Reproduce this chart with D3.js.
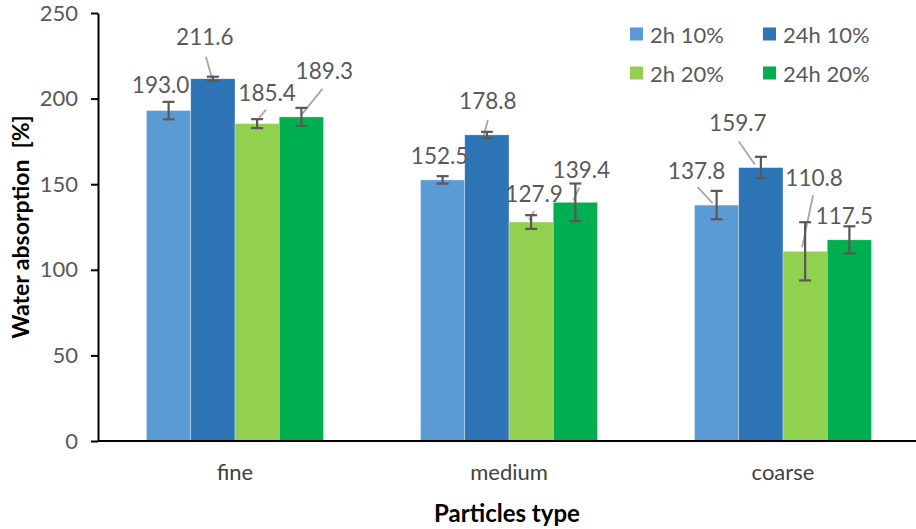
<!DOCTYPE html>
<html>
<head>
<meta charset="utf-8">
<script src="https://cdn.jsdelivr.net/npm/d3@7"></script>
<style>
  html, body { margin: 0; padding: 0; background: #fff; }
  svg { display: block; }
  text { font-family: Lato, "Liberation Sans", sans-serif; }
</style>
</head>
<body>
<svg id="chart" width="916" height="529"></svg>
<script>
// ---- data ----
const categories = ["fine", "medium", "coarse"];
const seriesNames = ["2h 10%", "24h 10%", "2h 20%", "24h 20%"];
const seriesColors = ["#5B9BD5", "#2E75B6", "#92D050", "#00B050"];
const values2h10 = [193.0, 152.5, 137.8];
const values24h10 = [211.6, 178.8, 159.7];
const values2h20 = [185.4, 127.9, 110.8];
const values24h20 = [189.3, 139.4, 117.5];
const errors2h10 = [5.1, 2.2, 8.3];
const errors24h10 = [1.2, 1.8, 6.3];
const errors2h20 = [2.6, 4.0, 17.0];
const errors24h20 = [5.3, 11.0, 7.9];
const yTicks = [0, 50, 100, 150, 200, 250];
const yTitle = "Water absorption  [%]";
const xTitle = "Particles type";

// label placement offsets (pixels, relative to bar top centre) [series][category]
const labelOffsets = [
  [[-8, -26], [-3, -24], [-20, -35]],
  [[-8, -42], [1, -34], [-23, -45]],
  [[10, -31], [3, -29], [9, -74]],
  [[23, -46], [6, -33], [-5, -24]]
];
// leader lines [x1,y1,x2,y2] relative to bar top centre, null = none
const leaderOffsets = [
  [null, null, [-19, -18, -4, -2]],
  [[-7, -22, -1, -1], [1, -15, -3, 0], [-22, -26, -6, -3]],
  [[9, -14, 2, -6], [3, -11, -2, -2], [8, -56, -3, -4]],
  [[21, -28, 0, -2], [4, -15, -2, -2], null]
];

const seriesValues = [values2h10, values24h10, values2h20, values24h20];
const seriesErrors = [errors2h10, errors24h10, errors2h20, errors24h20];

// ---- layout ----
const svg = d3.select("#chart");
const mLeft = 98, mRight = 920, mTop = 13, mBottom = 441;

const x0 = d3.scaleBand().domain(categories).range([mLeft, mRight])
  .paddingInner(0.354).paddingOuter(0.177);
const x1 = d3.scaleBand().domain(d3.range(seriesNames.length)).range([0, x0.bandwidth()]);
const y = d3.scaleLinear().domain([0, 250]).range([mBottom, mTop]);

const grey = "#595959";

// bars
const rows = [];
seriesNames.forEach((s, si) => categories.forEach((c, ci) => {
  rows.push({ si, ci, c, v: seriesValues[si][ci], e: seriesErrors[si][ci] });
}));
const cx = d => x0(d.c) + x1(d.si) + x1.bandwidth() / 2;

svg.append("g").selectAll("rect").data(rows).join("rect")
  .attr("x", d => x0(d.c) + x1(d.si))
  .attr("y", d => y(d.v))
  .attr("width", x1.bandwidth())
  .attr("height", d => y(0) - y(d.v))
  .attr("fill", d => seriesColors[d.si])
  .attr("stroke", "#ffffff").attr("stroke-opacity", 0.5).attr("stroke-width", 0.6);

// leader lines
svg.append("g").selectAll("line")
  .data(rows.filter(d => leaderOffsets[d.si][d.ci]))
  .join("line")
  .attr("x1", d => cx(d) + leaderOffsets[d.si][d.ci][0])
  .attr("y1", d => y(d.v) + leaderOffsets[d.si][d.ci][1])
  .attr("x2", d => cx(d) + leaderOffsets[d.si][d.ci][2])
  .attr("y2", d => y(d.v) + leaderOffsets[d.si][d.ci][3])
  .attr("stroke", "#A6A6A6").attr("stroke-width", 1.8);

// error bars
const eg = svg.append("g").attr("stroke", grey).attr("stroke-width", 2.2);
const capW = 6;
rows.forEach(d => {
  const xc = cx(d), yt = y(d.v + d.e), yb = y(d.v - d.e);
  eg.append("line").attr("x1", xc).attr("x2", xc).attr("y1", yt).attr("y2", yb);
  eg.append("line").attr("x1", xc - capW).attr("x2", xc + capW).attr("y1", yt).attr("y2", yt);
  eg.append("line").attr("x1", xc - capW).attr("x2", xc + capW).attr("y1", yb).attr("y2", yb);
});

// data labels
svg.append("g").selectAll("text").data(rows).join("text")
  .attr("x", d => cx(d) + labelOffsets[d.si][d.ci][0])
  .attr("y", d => y(d.v) + labelOffsets[d.si][d.ci][1])
  .attr("text-anchor", "middle").attr("dominant-baseline", "central")
  .attr("font-size", 22.5).attr("fill", grey)
  .text(d => d.v.toFixed(1));

// y axis
const yAxis = svg.append("g").attr("transform", `translate(${mLeft},0)`)
  .call(d3.axisLeft(y).tickValues(yTicks).tickSize(7).tickSizeOuter(0).tickPadding(13));
yAxis.select(".domain").attr("stroke", "#000").attr("stroke-width", 2);
yAxis.selectAll(".tick line").attr("stroke", "#000").attr("stroke-width", 2);
yAxis.selectAll(".tick text").attr("font-size", 22).attr("fill", grey)
  .attr("font-family", "Lato, 'Liberation Sans', sans-serif");

// x axis
const xAxis = svg.append("g").attr("transform", `translate(0,${mBottom})`)
  .call(d3.axisBottom(x0).tickSize(0).tickSizeOuter(0).tickPadding(23));
xAxis.select(".domain").attr("d", `M${mLeft},0H916`).attr("stroke", "#000").attr("stroke-width", 2.2);
xAxis.selectAll(".tick text").attr("font-size", 22).attr("fill", "#404040")
  .attr("font-family", "Lato, 'Liberation Sans', sans-serif");

// axis titles
svg.append("text")
  .attr("transform", `translate(29,${(mTop + mBottom) / 2}) rotate(-90)`)
  .attr("text-anchor", "middle")
  .style("white-space", "pre")
  .attr("font-size", 23).attr("font-weight", "bold").attr("fill", "#000")
  .text(yTitle);
svg.append("text")
  .attr("x", (mLeft + 916) / 2).attr("y", 522)
  .attr("text-anchor", "middle")
  .attr("font-size", 24).attr("font-weight", "bold").attr("fill", "#000")
  .text(xTitle);

// legend
const legendPos = [[630, 34], [763, 34], [630, 73], [763, 73]];
const lg = svg.append("g");
seriesNames.forEach((s, i) => {
  const [lx, ly] = legendPos[i];
  lg.append("rect").attr("x", lx).attr("y", ly - 6.5).attr("width", 13).attr("height", 13)
    .attr("fill", seriesColors[i]);
  lg.append("text").attr("x", lx + 20).attr("y", ly).attr("dominant-baseline", "central")
    .attr("font-size", 22).attr("fill", grey).text(s);
});
</script>
</body>
</html>
